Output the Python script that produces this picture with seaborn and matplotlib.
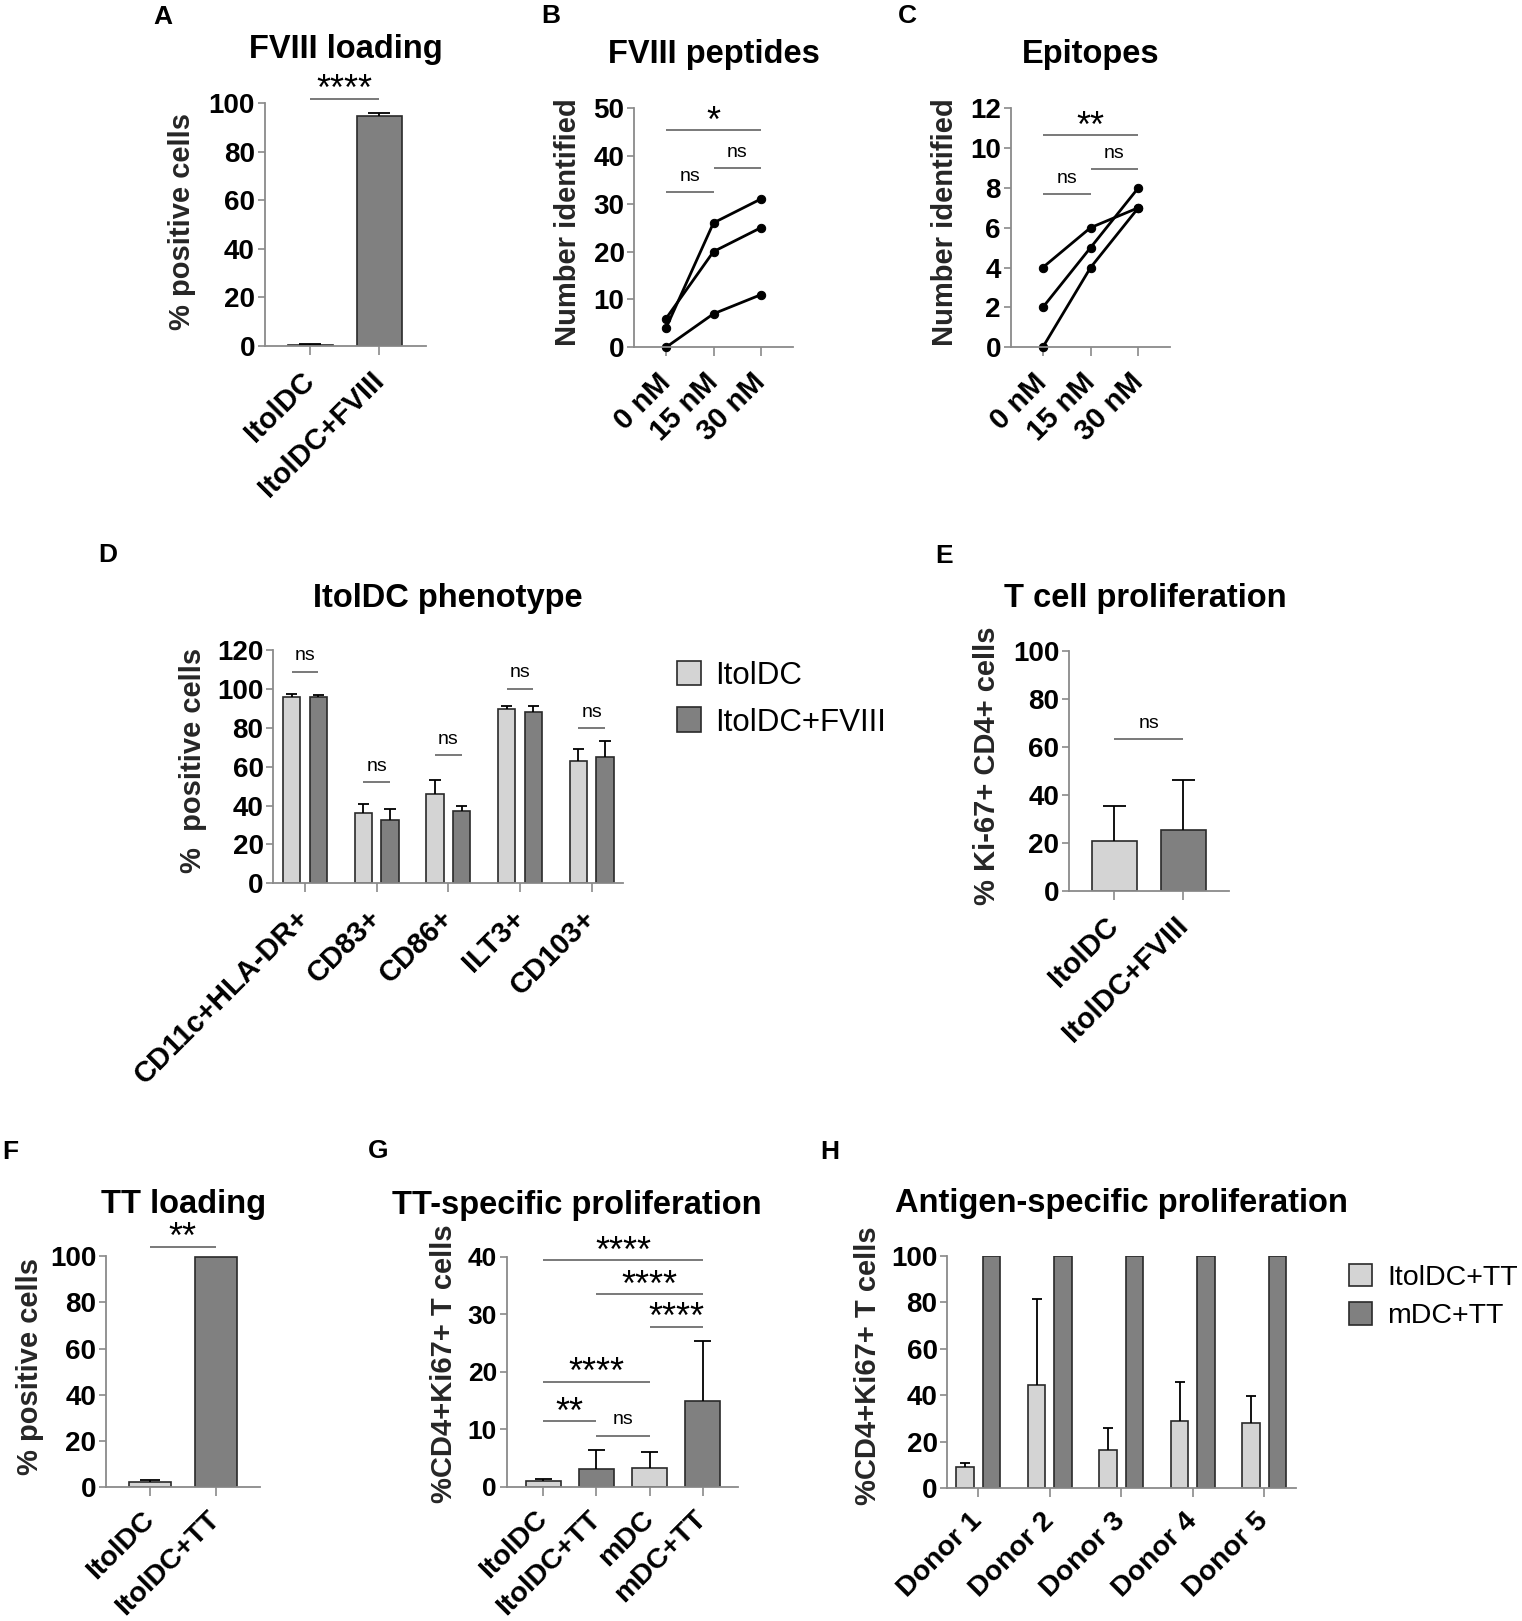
import numpy as np
import pandas as pd
import matplotlib
matplotlib.use("Agg")
import matplotlib.pyplot as plt
import matplotlib.transforms as mtransforms
from matplotlib.patches import Patch, Rectangle
import seaborn as sns

# ---------------- data ----------------
a_groups = ["ItolDC", "ItolDC+FVIII"]
a_mean = [0.3, 94.9]
a_sd = [0.2, 1.0]

b_doses = ["0 nM", "15 nM", "30 nM"]
b_donor1 = [4, 26, 31]
b_donor2 = [6, 20, 25]
b_donor3 = [0, 7, 11]

c_doses = ["0 nM", "15 nM", "30 nM"]
c_donor1 = [4, 6, 7]
c_donor2 = [2, 5, 8]
c_donor3 = [0, 4, 7]

d_markers = ["CD11c+HLA-DR+", "CD83+", "CD86+", "ILT3+", "CD103+"]
d_series = ["ItolDC", "ItolDC+FVIII"]
d_itoldc_mean = [96.0, 36.0, 45.8, 89.8, 62.9]
d_itoldc_sd = [1.5, 5.0, 7.3, 1.6, 6.4]
d_fviii_mean = [95.7, 32.7, 37.3, 88.1, 64.8]
d_fviii_sd = [1.3, 5.7, 2.6, 3.3, 8.2]

e_groups = ["ItolDC", "ItolDC+FVIII"]
e_mean = [20.8, 25.3]
e_sd = [14.5, 20.7]

f_groups = ["ItolDC", "ItolDC+TT"]
f_mean = [2.2, 99.6]
f_sd = [0.8, 0.0]

g_groups = ["ItolDC", "ItolDC+TT", "mDC", "mDC+TT"]
g_mean = [1.0, 3.0, 3.2, 14.9]
g_sd = [0.4, 3.4, 2.8, 10.5]

h_donors = ["Donor 1", "Donor 2", "Donor 3", "Donor 4", "Donor 5"]
h_series = ["ItolDC+TT", "mDC+TT"]
h_itoldc_mean = [9.0, 44.3, 16.3, 29.0, 27.9]
h_itoldc_sd = [2.0, 37.0, 9.7, 16.5, 11.6]
h_mdc_mean = [100, 100, 100, 100, 100]
h_mdc_sd = [0, 0, 0, 0, 0]

# ---------------- style ----------------
LIGHT = "#d4d4d4"
DARK = "#808080"
EDGE = "#2a2a2a"
SPINE = "#8a8a8a"
TITLE_FS = 23.5

sns.set_theme(style="ticks")
plt.rcParams["font.family"] = ["Liberation Sans", "DejaVu Sans"]
plt.rcParams.update({
    "font.weight": "bold",
    "axes.labelweight": "bold",
    "axes.edgecolor": SPINE,
    "axes.linewidth": 1.3,
    "xtick.color": SPINE,
    "ytick.color": SPINE,
    "xtick.labelcolor": "black",
    "ytick.labelcolor": "black",
    "text.color": "black",
})

W, H = 1522, 1621
fig = plt.figure(figsize=(W / 100, H / 100), dpi=100)
PX = mtransforms.Affine2D().scale(1 / W, -1 / H).translate(0, 1) + fig.transFigure


def make_ax(left, right, top, bottom):
    return fig.add_axes([left / W, 1 - bottom / H, (right - left) / W, (bottom - top) / H])


def style_ax(ax, xlim, ylim, yticks, xlabels, ylabel, ylab_x, ylab_y,
             ytick_fs=20, xtick_fs=20.5, xpad=14):
    sns.despine(ax=ax)
    ax.set_xlim(*xlim)
    ax.set_ylim(*ylim)
    ax.set_yticks(yticks)
    ax.set_yticklabels([str(t) for t in yticks], fontsize=ytick_fs, fontweight="bold")
    ax.set_xticks(range(len(xlabels)))
    ax.set_xticklabels(xlabels, rotation=45, ha="right", va="center",
                       rotation_mode="anchor", fontsize=xtick_fs, fontweight="bold")
    ax.tick_params(axis="y", length=5, width=1.2, pad=2)
    ax.tick_params(axis="x", length=6.5, width=1.2, pad=xpad)
    ax.set_xlabel("")
    ax.set_ylabel(ylabel, fontsize=21, fontweight="bold")
    ax.yaxis.set_label_coords(ylab_x, ylab_y, transform=PX)
    ax.yaxis.label.set_va("center")


def add_err(ax, means, sds, cap_w):
    bars = [p for p in ax.patches if isinstance(p, Rectangle)]
    bars = sorted(bars, key=lambda p: p.get_x())
    for p, m, s in zip(bars, means, sds):
        if s <= 0:
            continue
        xc = p.get_x() + p.get_width() / 2
        ax.vlines(xc, m, m + s, color="black", lw=1.3, zorder=4)
        ax.hlines(m + s, xc - cap_w / 2, xc + cap_w / 2, color="black", lw=1.3, zorder=4)


def sig(ax, x0, x1, y, text):
    ax.plot([x0, x1], [y, y], color="#555555", lw=1.1, clip_on=False,
            solid_capstyle="butt")
    if text == "ns":
        fs, off = 14, 8.3
    else:
        fs, off = 26, -1.0
    ax.annotate(text, xy=((x0 + x1) / 2, y), xytext=(0, off), textcoords="offset points",
                ha="center", va="baseline", fontsize=fs, fontweight="normal",
                annotation_clip=False)


def title(x, y, text, fs=TITLE_FS):
    fig.text(x, y, text, transform=PX, ha="center", va="baseline",
             fontsize=fs, fontweight="bold")


def letter(x, y, text):
    fig.text(x, y, text, transform=PX, ha="left", va="baseline",
             fontsize=19, fontweight="bold")


def interleave(a, b):
    out = []
    for u, v in zip(a, b):
        out += [u, v]
    return out


def lines_panel(ax, d1, d2, d3):
    df = pd.DataFrame({
        "pos": list(range(3)) * 3,
        "val": d1 + d2 + d3,
        "donor": ["d1"] * 3 + ["d2"] * 3 + ["d3"] * 3,
    })
    sns.lineplot(data=df, x="pos", y="val", units="donor", estimator=None, color="black",
                 marker="o", markersize=6, markeredgecolor="black", linewidth=2.0, ax=ax)
    for ln in ax.lines:
        ln.set_clip_on(False)


# ---------------- A ----------------
ax = make_ax(264.7, 425.7, 103.3, 345.7)
sns.barplot(x=a_groups, y=a_mean, hue=a_groups, palette=[LIGHT, DARK], legend=False,
            width=0.652, edgecolor=EDGE, linewidth=1.2, errorbar=None, saturation=1, ax=ax)
add_err(ax, a_mean, a_sd, 0.32)
style_ax(ax, (-0.661, 1.672), (0, 100), [0, 20, 40, 60, 80, 100], a_groups,
         "% positive cells", 182.5, 222, xtick_fs=21, xpad=15.5)
sig(ax, 0, 1, 101.8, "****")
title(346.2, 58.3, "FVIII loading")
letter(153, 24, "A")

# ---------------- B ----------------
ax = make_ax(634.3, 792.7, 108, 347.3)
lines_panel(ax, b_donor1, b_donor2, b_donor3)
style_ax(ax, (-0.667, 2.667), (0, 50), [0, 10, 20, 30, 40, 50], b_doses,
         "Number identified", 568.3, 222.5, xtick_fs=21, xpad=15.5)
sig(ax, 0, 2, 45.3, "*")
sig(ax, 0, 1, 32.4, "ns")
sig(ax, 1, 2, 37.4, "ns")
title(713.5, 63.3, "FVIII peptides")
letter(541.7, 23.3, "B")

# ---------------- C ----------------
ax = make_ax(1010.7, 1170, 108, 347.3)
lines_panel(ax, c_donor1, c_donor2, c_donor3)
style_ax(ax, (-0.67, 2.66), (0, 12), [0, 2, 4, 6, 8, 10, 12], c_doses,
         "Number identified", 945, 222.5, xtick_fs=21, xpad=15.5)
sig(ax, 0, 2, 10.63, "**")
sig(ax, 0, 1, 7.67, "ns")
sig(ax, 1, 2, 8.93, "ns")
title(1090.8, 63.3, "Epitopes")
letter(898.3, 23.3, "C")

# ---------------- D ----------------
ax = make_ax(273.3, 623, 650, 883.3)
df_d = pd.DataFrame({
    "marker": d_markers * 2,
    "value": d_itoldc_mean + d_fviii_mean,
    "group": [d_series[0]] * 5 + [d_series[1]] * 5,
})
sns.barplot(data=df_d, x="marker", y="value", hue="group", palette=[LIGHT, DARK],
            legend=False, width=0.745, gap=0.35, edgecolor=EDGE, linewidth=1.2,
            errorbar=None, saturation=1, ax=ax)
add_err(ax, interleave(d_itoldc_mean, d_fviii_mean), interleave(d_itoldc_sd, d_fviii_sd), 0.16)
style_ax(ax, (-0.442, 4.437), (0, 120), [0, 20, 40, 60, 80, 100, 120], d_markers,
         "%  positive cells", 193.3, 760, xtick_fs=21, xpad=15.5)
for i, yv in enumerate([108.8, 52.0, 65.8, 100.1, 79.7]):
    sig(ax, i - 0.186, i + 0.186, yv, "ns")
title(448.3, 606.7, "ItolDC phenotype")
letter(98, 561.7, "D")
ax.legend(handles=[Patch(facecolor=LIGHT, edgecolor=EDGE, linewidth=1.2),
                   Patch(facecolor=DARK, edgecolor=EDGE, linewidth=1.2)],
          labels=d_series, loc="upper left", bbox_to_anchor=(677.4, 660.5),
          bbox_transform=PX, frameon=False, prop={"size": 22.5, "weight": "normal"},
          handlelength=0.74, handleheight=0.83, handletextpad=0.48,
          labelspacing=0.54, borderpad=0, borderaxespad=0)

# ---------------- E ----------------
ax = make_ax(1069, 1229.3, 650.7, 890.7)
sns.barplot(x=e_groups, y=e_mean, hue=e_groups, palette=[LIGHT, DARK], legend=False,
            width=0.652, edgecolor=EDGE, linewidth=1.2, errorbar=None, saturation=1, ax=ax)
add_err(ax, e_mean, e_sd, 0.33)
style_ax(ax, (-0.657, 1.667), (0, 100), [0, 20, 40, 60, 80, 100], e_groups,
         "% Ki-67+ CD4+ cells", 987, 766, xtick_fs=21, xpad=15.5)
sig(ax, 0, 1, 63.1, "ns")
title(1145, 606.7, "T cell proliferation")
letter(935, 563.3, "E")

# ---------------- F ----------------
ax = make_ax(106, 260, 1256, 1487.3)
sns.barplot(x=f_groups, y=f_mean, hue=f_groups, palette=[LIGHT, DARK], legend=False,
            width=0.644, edgecolor=EDGE, linewidth=1.2, errorbar=None, saturation=1, ax=ax)
add_err(ax, f_mean, f_sd, 0.30)
style_ax(ax, (-0.670, 1.674), (0, 100), [0, 20, 40, 60, 80, 100], f_groups,
         "% positive cells", 30, 1366.7)
sig(ax, 0, 1, 103.9, "**")
title(183.3, 1213.3, "TT loading")
letter(2, 1159.3, "F")

# ---------------- G ----------------
ax = make_ax(506.7, 737.7, 1256.7, 1486.7)
sns.barplot(x=g_groups, y=g_mean, hue=g_groups, palette=[LIGHT, DARK, LIGHT, DARK],
            legend=False, width=0.653, edgecolor=EDGE, linewidth=1.2, errorbar=None,
            saturation=1, ax=ax)
add_err(ax, g_mean, g_sd, 0.32)
style_ax(ax, (-0.689, 3.659), (0, 40), [0, 10, 20, 30, 40], g_groups,
         "%CD4+Ki67+ T cells", 444, 1364, ytick_fs=19)
sig(ax, 0, 3, 39.4, "****")
sig(ax, 1, 3, 33.5, "****")
sig(ax, 2, 3, 27.8, "****")
sig(ax, 0, 2, 18.2, "****")
sig(ax, 0, 1, 11.4, "**")
sig(ax, 1, 2, 8.9, "ns")
title(576.7, 1214, "TT-specific proliferation")
letter(368, 1158.5, "G")

# ---------------- H ----------------
ax = make_ax(947.3, 1295.7, 1255.7, 1488.3)
df_h = pd.DataFrame({
    "donor": h_donors * 2,
    "value": h_itoldc_mean + h_mdc_mean,
    "group": [h_series[0]] * 5 + [h_series[1]] * 5,
})
sns.barplot(data=df_h, x="donor", y="value", hue="group", palette=[LIGHT, DARK],
            legend=False, width=0.74, gap=0.34, edgecolor=EDGE, linewidth=1.2,
            errorbar=None, saturation=1, ax=ax)
add_err(ax, interleave(h_itoldc_mean, h_mdc_mean), interleave(h_itoldc_sd, h_mdc_sd), 0.14)
style_ax(ax, (-0.434, 4.439), (0, 100), [0, 20, 40, 60, 80, 100], h_donors,
         "%CD4+Ki67+ T cells", 867.7, 1366)
title(1121.7, 1211.7, "Antigen-specific proliferation")
letter(820, 1159, "H")
ax.legend(handles=[Patch(facecolor=LIGHT, edgecolor=EDGE, linewidth=1.2),
                   Patch(facecolor=DARK, edgecolor=EDGE, linewidth=1.2)],
          labels=h_series, loc="upper left", bbox_to_anchor=(1348.5, 1264),
          bbox_transform=PX, frameon=False, prop={"size": 20.5, "weight": "normal"},
          handlelength=0.84, handleheight=0.83, handletextpad=0.52,
          labelspacing=0.4, borderpad=0, borderaxespad=0)

fig.savefig("out.png", dpi=100)
